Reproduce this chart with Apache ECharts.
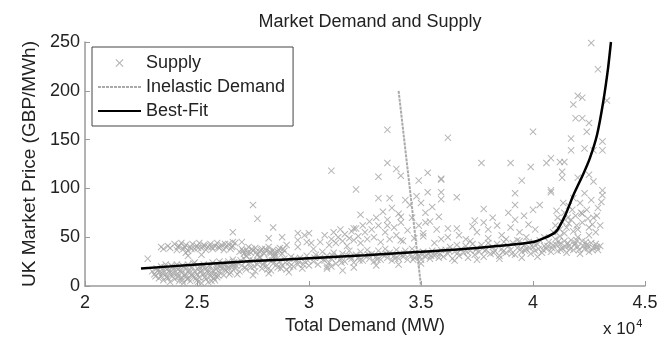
<!DOCTYPE html>
<html>
<head>
<meta charset="utf-8">
<script src="https://cdn.jsdelivr.net/npm/echarts@6/dist/echarts.min.js"></script>
<style>
  html, body { margin: 0; padding: 0; background: #fff; }
  #chart { width: 666px; height: 340px; }
</style>
</head>
<body>
<div id="chart"></div>
<script>
// total demand in MW, price in GBP/MWh
const supplyPoints = [
  // low band 2.3-2.66e4
  [23000,15],[23100,12],[23200,18],[23300,8],[23300,14],[23400,20],[23400,10],[23500,6],[23500,16],[23600,12],
  [23600,22],[23700,8],[23700,18],[23800,14],[23800,4],[23900,20],[23900,10],[24000,16],[24000,7],[24100,12],
  [24100,22],[24200,5],[24200,18],[24300,14],[24300,9],[24400,20],[24400,3],[24500,12],[24500,17],[24600,8],
  [24600,22],[24700,14],[24700,5],[24800,19],[24800,10],[24900,15],[24900,24],[25000,6],[25000,12],[25100,20],
  [25100,9],[25200,16],[25200,3],[25300,12],[25300,22],[25400,7],[25400,18],[25500,14],[25500,4],[25600,20],
  [25600,10],[25700,16],[25700,24],[25800,12],[25800,6],[25900,19],[25900,22],[26000,14],[26000,25],[26100,18],
  [26200,11],[26200,22],[26300,16],[26400,25],[26400,19],[26500,14],[26600,22],[26600,27],
  [23150,10],[23250,16],[23450,13],[23550,19],[23650,9],[23750,15],[23850,21],[23950,13],[24050,19],[24150,9],
  [24250,15],[24350,21],[24450,11],[24550,7],[24650,17],[24750,11],[24850,23],[24950,8],[25050,17],[25150,14],
  [25250,20],[25350,9],[25450,15],[25550,21],[25650,13],[25750,8],[25850,17],[25950,11],[26050,20],[26150,23],
  [26250,17],[26350,21],[26450,12],[26550,19],[26650,24],[24350,6],[25050,4],[25650,5],
  // upper band 2.33-2.67e4
  [23400,40],[23500,38],[23700,41],[23800,39],[24000,43],[24100,37],[24200,41],[24300,44],[24400,38],[24500,42],
  [24600,36],[24700,40],[24800,43],[24900,38],[25000,41],[25100,44],[25200,39],[25300,42],[25400,37],[25500,40],
  [25600,43],[25700,38],[25800,41],[25900,44],[26000,39],[26100,42],[26200,37],[26300,40],[26400,43],[26500,38],
  [26600,41],[26700,44],[22800,28],[24600,31],[24500,34],[25200,32],
  [24150,40],[24450,40],[24750,38],[25050,39],[25350,41],[25650,40],[25950,40],[26250,43],[26550,40],
  // 2.66-3.0e4
  [26700,18],[26800,24],[26900,15],[27000,21],[27100,28],[27200,17],[27300,23],[27400,19],[27500,26],[27600,15],
  [27700,22],[27800,29],[27900,18],[28000,24],[28100,20],[28200,27],[28300,16],[28400,23],[28500,30],[28600,19],
  [28700,25],[28800,21],[28900,28],[29000,17],[29100,24],[29200,30],[29300,20],[29400,26],[29500,22],[29600,29],
  [29700,18],[29800,25],[29900,31],[30000,21],[26800,12],[27500,11],[28200,13],[29100,14],
  [26750,21],[26950,26],[27150,19],[27350,27],[27550,20],[27750,25],[27950,22],[28150,17],[28350,26],[28550,22],
  [28750,18],[28950,24],[29150,20],[29350,28],[29550,25],[29750,22],[29950,26],
  [26900,35],[27000,38],[27100,33],[27200,37],[27300,40],[27400,34],[27500,36],[27600,39],[27700,32],[27800,35],
  [27900,38],[28000,33],[28100,36],[28200,40],[28300,34],[28400,37],[28500,32],[28600,35],[28700,39],[28800,33],
  [28900,36],[27200,31],[27800,30],[28400,30],
  [27050,36],[27250,34],[27450,38],[27650,35],[27850,37],[28050,38],[28250,35],[28450,34],[28650,37],[28850,38],
  [26600,55],[26600,45],[27000,45],[27500,83],[27700,69],[28400,60],[28800,50],[28200,49],[29000,42],[29500,54],
  [29500,47],[29800,52],[29900,45],[29500,40],[30000,54],[30100,44],[30200,38],[30800,20],[25900,9],
  // 3.0-3.6e4 low band
  [30200,25],[30300,32],[30400,22],[30500,29],[30600,35],[30700,26],[30800,31],[30900,24],[31000,28],[31100,34],
  [31200,23],[31300,30],[31400,27],[31500,33],[31600,25],[31700,31],[31800,36],[31900,28],[32000,24],[32100,32],
  [32200,29],[32300,35],[32400,26],[32500,31],[32600,37],[32700,28],[32800,33],[32900,25],[33000,30],[33100,36],
  [33200,27],[33300,32],[33400,38],[33500,29],[33600,34],[33700,26],[33800,31],[33900,37],[34000,28],[34100,33],
  [34200,30],[34300,36],[34400,27],[34500,32],[34600,38],[34700,29],[34800,34],[34900,31],[35000,27],[35100,35],
  [35200,30],[35300,33],[35400,28],[35500,36],[35600,31],[35700,34],[35800,29],[35900,37],[31000,20],[32000,19],
  [33000,21],[34000,22],[30800,18],[31500,16],[35000,23],
  [30250,29],[30650,27],[31050,31],[31450,24],[31850,30],[32250,26],[32650,32],[33050,27],[33450,33],[33850,28],
  [34250,33],[34650,27],[35050,32],[35450,31],[35850,33],
  // 3.0-3.6e4 cloud
  [30500,45],[30700,52],[30900,42],[31000,48],[31100,55],[31200,44],[31300,50],[31400,58],[31500,46],[31600,53],
  [31700,41],[31800,49],[31900,56],[32000,47],[32100,59],[32200,51],[32300,44],[32400,62],[32500,55],[32600,48],
  [32700,66],[32800,58],[32900,50],[33000,70],[33100,62],[33200,45],[33300,76],[33400,55],[33500,68],[33600,48],
  [33700,80],[33800,60],[33900,52],[34000,74],[34100,65],[34200,46],[34300,88],[34400,57],[34500,83],[34600,70],
  [34700,49],[34800,92],[34900,62],[35000,85],[35100,54],[35200,75],[35300,96],[35400,66],[35500,81],[35600,44],
  [35700,58],[35800,71],[35900,48],[32300,73],[32000,59],[33500,62],[34100,71],[35200,65],[35100,51],[34100,47],
  [33500,160],[31000,118],[32100,99],[33100,112],[33500,126],[33900,120],[34100,113],[35300,116],[34900,108],
  [35900,109],[36200,152],[33100,90],[33600,90],
  // 3.6-4.05e4 low band
  [36000,30],[36100,37],[36200,33],[36300,40],[36400,28],[36500,35],[36600,42],[36700,31],[36800,38],[36900,34],
  [37000,41],[37100,29],[37200,36],[37300,43],[37400,32],[37500,39],[37600,35],[37700,42],[37800,30],[37900,37],
  [38000,44],[38100,33],[38200,40],[38300,36],[38400,43],[38500,31],[38600,38],[38700,45],[38800,34],[38900,41],
  [39000,37],[39100,44],[39200,32],[39300,39],[39400,46],[39500,35],[39600,42],[39700,38],[39800,45],[39900,33],
  [40000,40],[40100,36],[40200,43],[40300,47],[40400,34],[40500,41],[36500,26],[37500,27],[38500,28],[39500,29],
  [40200,30],
  [36250,36],[36650,34],[37050,35],[37450,37],[37850,36],[38250,34],[38650,35],[39050,33],[39450,38],[39850,39],
  [40050,44],[40250,38],[40450,37],[39650,36],
  // 3.6-4.05e4 cloud
  [36200,50],[36600,59],[36700,52],[37000,48],[37300,61],[37500,55],[37800,65],[38000,58],[38200,70],[38400,62],
  [37400,67],[38600,52],[38900,75],[39000,60],[39200,68],[39400,55],[39600,72],[39800,63],[40000,78],[40100,58],
  [40300,83],[39700,50],[38800,48],[38000,49],[37200,46],[39300,47],
  [40000,158],[37700,126],[39000,126],[39900,122],[35900,110],[39500,108],[35900,96],[35900,89],[36600,91],
  [39200,95],[37800,79],[39200,83],[40800,98],[36200,59],
  // 4.05-4.33e4
  [40600,38],[40700,45],[40800,35],[40900,42],[41000,48],[41100,36],[41200,43],[41300,39],[41400,46],[41500,34],
  [41600,41],[41700,47],[41800,37],[41900,44],[42000,40],[42100,33],[42200,46],[42300,38],[42400,42],[42500,35],
  [42600,44],[42700,39],[42800,43],[42900,37],[43000,41],[40500,50],[41200,51],[42000,50],
  [40650,41],[40850,39],[41050,42],[41250,37],[41450,40],[41650,38],[41850,42],[42050,37],[42250,41],[42450,39],
  [42650,37],[42850,40],[41150,46],[41550,44],[41950,47],[42350,45],
  [40900,55],[41000,62],[41100,70],[41200,58],[41300,66],[41400,75],[41500,60],[41600,82],[41700,68],[41800,90],
  [41900,72],[42000,58],[42100,85],[42200,65],[42300,95],[42400,78],[42500,60],[42600,88],[42700,70],[42800,55],
  [42900,80],[43000,62],[41400,54],[41800,56],[42500,52],[41600,64],[42200,74],
  [41050,77],[41350,85],[41550,70],[41750,78],[41950,62],[42150,75],[42450,69],[42650,63],[42850,72],[43050,86],
  [40600,126],[40800,131],[41200,127],[41400,127],[41300,117],[41300,111],[42000,111],[42500,114],[42700,107],
  [43100,98],[43100,93],[40800,96],[42600,249],[42900,222],[43300,190],[42000,195],[42200,193],[41800,186],
  [41900,172],[42200,172],[42500,167],[42400,158],[41700,151],[41700,139],[43100,148],[43100,139],[42300,141],
  [42700,139]
];

const demandPoints = [[34000, 200], [35000, 0]];

const fitPoints = [
  [22500,18],[25000,22],[27500,25.5],[30000,28.5],[32500,31.5],[35000,35],[37500,39],[40000,45],
  [41000,55],[41450,73],[41800,93],[42230,114],[42540,131],[42860,155],[43130,188],[43350,223],[43480,250]
];

const xTicksDiv = 1e4;

const crossPath = 'path://M0,1L1,0L5,4L9,0L10,1L6,5L10,9L9,10L5,6L1,10L0,9L4,5Z';
const font = '"Liberation Sans", Arial, sans-serif';
const axisGrey = '#9a9a9a';

const chart = echarts.init(document.getElementById('chart'));

chart.setOption({
  animation: false,
  backgroundColor: '#fff',
  textStyle: { fontFamily: font, color: '#222' },
  title: {
    text: 'Market Demand and Supply',
    left: 365,
    textAlign: 'center',
    top: 8,
    textStyle: { fontFamily: font, fontSize: 18, fontWeight: 'normal', color: '#222' },
  },
  grid: { left: 85, right: 21, top: 42, bottom: 54 },
  legend: {
    orient: 'vertical',
    left: 92,
    top: 47,
    padding: [6, 8, 5, 5],
    itemWidth: 43,
    itemHeight: 8,
    itemGap: 4,
    backgroundColor: '#fff',
    borderColor: '#444',
    borderWidth: 1,
    borderRadius: 0,
    z: 10,
    textStyle: { fontFamily: font, fontSize: 18, color: '#222', lineHeight: 20 },
    data: [
      { name: 'Supply' },
      { name: 'Inelastic Demand', itemStyle: { opacity: 0 } },
      { name: 'Best-Fit', itemStyle: { opacity: 0 } },
    ],
  },
  xAxis: {
    type: 'value',
    min: 20000,
    max: 45000,
    interval: 5000,
    name: 'Total Demand (MW)',
    nameLocation: 'middle',
    nameGap: 31,
    nameTextStyle: { fontFamily: font, fontSize: 18, color: '#222' },
    axisLine: { lineStyle: { color: axisGrey, width: 1.5 } },
    axisTick: { inside: true, length: 5, lineStyle: { color: axisGrey } },
    axisLabel: {
      fontFamily: font, fontSize: 18, color: '#222', margin: 8,
      formatter: (v) => String(v / xTicksDiv),
    },
    splitLine: { show: false },
  },
  yAxis: {
    type: 'value',
    min: 0,
    max: 250,
    interval: 50,
    name: 'UK Market Price (GBP/MWh)',
    nameLocation: 'middle',
    nameRotate: 90,
    nameGap: 46,
    nameTextStyle: { fontFamily: font, fontSize: 19, color: '#222' },
    axisLine: { show: true, lineStyle: { color: axisGrey, width: 1.5 } },
    axisTick: { show: true, inside: true, length: 5, lineStyle: { color: axisGrey } },
    axisLabel: { fontFamily: font, fontSize: 18, color: '#222', margin: 5 },
    splitLine: { show: false },
  },
  graphic: [
    {
      type: 'text',
      left: 603,
      top: 318,
      style: {
        text: '{a|x 10}{b|4}',
        fill: '#222',
        rich: {
          a: { fontFamily: font, fontSize: 17, verticalAlign: 'bottom', lineHeight: 20 },
          b: { fontFamily: font, fontSize: 11, verticalAlign: 'top', lineHeight: 20, padding: [0, 0, 8, 1] },
        },
      },
    },
  ],
  series: [
    {
      name: 'Supply',
      type: 'scatter',
      symbol: crossPath,
      symbolSize: 7,
      itemStyle: { color: '#a3a3a3' },
      data: supplyPoints,
      z: 2,
    },
    {
      name: 'Inelastic Demand',
      type: 'line',
      showSymbol: false,
      symbol: 'none',
      lineStyle: { color: '#aaaaaa', width: 2, type: [3, 1] },
      itemStyle: { color: '#aaaaaa' },
      data: demandPoints,
      z: 3,
    },
    {
      name: 'Best-Fit',
      type: 'line',
      showSymbol: false,
      symbol: 'none',
      smooth: 0.2,
      lineStyle: { color: '#000', width: 2.5 },
      itemStyle: { color: '#000' },
      data: fitPoints,
      z: 4,
    },
  ],
});
</script>
</body>
</html>
